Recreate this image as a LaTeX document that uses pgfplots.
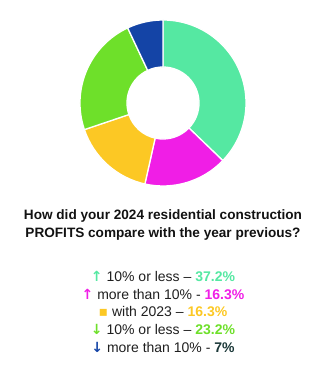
\documentclass[border=0pt]{standalone}
\usepackage{pgfplots}
\usepackage{pgfplotstable}
\pgfplotsset{compat=1.18}
\usepackage{fontspec}
\setmainfont{Liberation Sans}
\newfontfamily\symfont{DejaVu Sans}
\definecolor{slice0}{HTML}{55E8A2}
\definecolor{slice1}{HTML}{F01EE6}
\definecolor{slice2}{HTML}{FCC824}
\definecolor{slice3}{HTML}{6EE02A}
\definecolor{slice4}{HTML}{1444A6}
\definecolor{darkpct}{HTML}{1B3838}
\pgfplotstableread{
label value
up10 37.2
upmore 16.3
same 16.3
down10 23.2
downmore 7
}\datatable
\begin{document}
\begin{tikzpicture}
\path (0,0) rectangle (327pt,367pt);
\begin{axis}[
  at={(163pt,264pt)}, anchor=center,
  scale only axis, width=166pt, height=166pt,
  xmin=-1, xmax=1, ymin=-1, ymax=1,
  hide axis, clip=false]
\def\ri{0.434}
\def\cum{0}
\pgfplotsforeachungrouped \i in {0,...,4}{%
  \pgfplotstablegetelem{\i}{value}\of\datatable
  \let\v\pgfplotsretval
  \pgfmathsetmacro\s{90-3.6*\cum}%
  \pgfmathsetmacro\e{90-3.6*(\cum+\v)}%
  \pgfmathsetmacro\cum{\cum+\v}%
  \pgfmathsetmacro\xa{\ri*cos(\s)}%
  \pgfmathsetmacro\ya{\ri*sin(\s)}%
  \pgfmathsetmacro\xb{cos(\s)}%
  \pgfmathsetmacro\yb{sin(\s)}%
  \pgfmathsetmacro\xc{\ri*cos(\e)}%
  \pgfmathsetmacro\yc{\ri*sin(\e)}%
  \edef\temp{\noexpand\fill[slice\i,draw=white,line width=1.3pt,line join=round]
    (axis cs:\xa,\ya) -- (axis cs:\xb,\yb)
    arc[start angle=\s,end angle=\e,radius=83pt]
    -- (axis cs:\xc,\yc)
    arc[start angle=\e,end angle=\s,radius=36pt] -- cycle;}%
  \temp
}
\end{axis}
\begin{scope}[every node/.style={font=\bfseries\fontsize{13.6}{16}\selectfont, text=black!93, anchor=base}]
\node at (163pt,147pt) {How did your 2024 residential construction};
\node at (163pt,129pt) {PROFITS compare with the year previous?};
\end{scope}
\begin{scope}[every node/.style={font=\fontsize{14}{16}\selectfont, text=black!88, anchor=base}]
\node at (163pt,85pt) {{\symfont\bfseries\color{slice0}↑} 10\% or less – \textbf{\color{slice0}37.2\%}};
\node at (163pt,67.5pt) {{\symfont\bfseries\color{slice1}↑} more than 10\% - \textbf{\color{slice1}16.3\%}};
\node at (163pt,50pt) {{\symfont\color{slice2}▪} with 2023 – \textbf{\color{slice2}16.3\%}};
\node at (163pt,32.5pt) {{\symfont\bfseries\color{slice3}↓} 10\% or less – \textbf{\color{slice3}23.2\%}};
\node at (163pt,15pt) {{\symfont\bfseries\color{slice4}↓} more than 10\% - \textbf{\color{darkpct}7\%}};
\end{scope}
\end{tikzpicture}
\end{document}
